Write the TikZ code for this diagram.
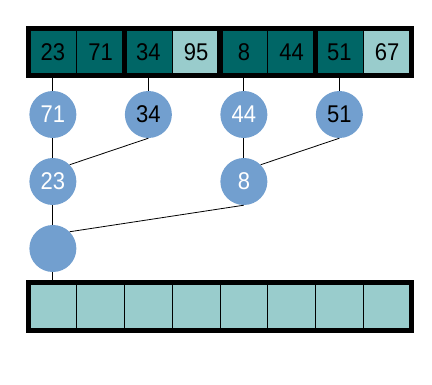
\documentclass[tikz,border=0pt]{standalone}
\usepackage{fontspec}
\setmainfont{Liberation Sans}
\usepackage{graphicx}
\definecolor{darkteal}{HTML}{006666}
\definecolor{lightteal}{HTML}{99CCCC}
\definecolor{nodeblue}{HTML}{729FCF}
\newcommand{\tx}[1]{\scalebox{1}[1.1]{#1}}
\tikzset{
  cell/.style={draw=black, line width=0.8pt, minimum width=47.75pt, minimum height=46.5pt, inner sep=0pt, font=\fontsize{22}{22}\selectfont},
  dcell/.style={cell, fill=darkteal},
  lcell/.style={cell, fill=lightteal},
  heapnode/.style={circle, fill=nodeblue, minimum size=47pt, inner sep=0pt, font=\fontsize{22}{22}\selectfont},
  frame/.style={draw=black, line width=5pt},
  edge/.style={draw=black, line width=0.8pt}
}
\begin{document}
\begin{tikzpicture}[x=1pt, y=-1pt]
\useasboundingbox (0,0) rectangle (432,384);
% top array
\node[dcell] (c1) at (52.875,52.25) {\tx{23}};
\node[dcell] (c2) at (100.625,52.25) {\tx{71}};
\node[dcell] (c3) at (148.375,52.25) {\tx{34}};
\node[lcell] (c4) at (196.125,52.25) {\tx{95}};
\node[dcell] (c5) at (243.875,52.25) {\tx{8}};
\node[dcell] (c6) at (291.625,52.25) {\tx{44}};
\node[dcell] (c7) at (339.375,52.25) {\tx{51}};
\node[lcell] (c8) at (387.125,52.25) {\tx{67}};
\draw[frame] (c1.north west) rectangle (c2.south east);
\draw[frame] (c3.north west) rectangle (c4.south east);
\draw[frame] (c5.north west) rectangle (c6.south east);
\draw[frame] (c7.north west) rectangle (c8.south east);
% tree
\node[heapnode, text=white] (n71) at (52.875,114.5) {\tx{71}};
\node[heapnode, text=black] (n34) at (148.375,114.5) {\tx{34}};
\node[heapnode, text=white] (n44) at (243.875,114.5) {\tx{44}};
\node[heapnode, text=black] (n51) at (339.375,114.5) {\tx{51}};
\node[heapnode, text=white] (n23) at (52.875,181.5) {\tx{23}};
\node[heapnode, text=white] (n8) at (243.875,181.5) {\tx{8}};
\node[heapnode] (nr) at (52.875,248.5) {};
% bottom array
\foreach \i in {1,...,8} {
  \node[lcell] (b\i) at ({29+47.75*(\i-0.5)},306.5) {};
}
\draw[frame] (b1.north west) rectangle (b8.south east);
% connectors
\draw[edge] (c1.south) -- (n71.north);
\draw[edge] (c3.south) -- (n34.north);
\draw[edge] (c5.south) -- (n44.north);
\draw[edge] (c7.south) -- (n51.north);
\draw[edge] (n71.south) -- (n23.north);
\draw[edge] (n34.south) -- (n23.north east);
\draw[edge] (n44.south) -- (n8.north);
\draw[edge] (n51.south) -- (n8.north east);
\draw[edge] (n23.south) -- (nr.north);
\draw[edge] (n8.south) -- (nr.north east);
\draw[edge] (nr.south) -- (b1.north);
\end{tikzpicture}
\end{document}
